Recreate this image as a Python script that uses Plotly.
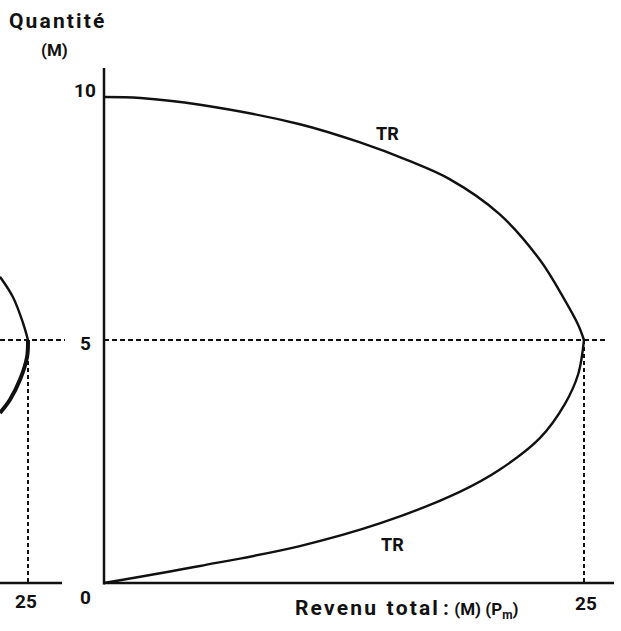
import plotly.graph_objects as go

# ---- data ----
# main chart: total revenue TR (x) against quantity M (y)
upper_q = [10.0, 9.98, 9.84, 9.44, 9.07, 8.70, 8.31, 7.59, 6.65, 5.82, 5.31, 5.0]
upper_tr = [0.0, 1.9, 5.0, 10.2, 13.3, 15.8, 18.0, 20.6, 22.7, 24.0, 24.7, 25.0]
lower_q = [0.0, 0.35, 0.76, 1.23, 1.87, 2.33, 2.98, 3.68, 4.30, 5.0]
lower_tr = [0.0, 5.0, 10.2, 14.4, 18.5, 20.6, 22.7, 24.0, 24.7, 25.0]

# left fragment (neighbouring panel, cut by the page edge)
frag_up_q = [6.30, 5.88, 5.35, 5.0]
frag_up_tr = [23.54, 24.22, 24.74, 25.0]
frag_low_q = [5.0, 4.65, 4.18, 3.77, 3.50]
frag_low_tr = [25.0, 24.95, 24.58, 24.06, 23.54]

y_ticks = [0, 5, 10]
y_tick_labels = ["0", "5", "10"]
x_tick = 25
x_tick_label = "25"
q_mid = 5
tr_max = 25

FONT = "Roboto, Liberation Sans, Arial, sans-serif"
BLACK = "#111111"
PX_X = 19.2   # pixels per revenue unit
PX_Y = 48.6   # pixels per quantity unit
X0 = 104      # pixel of revenue 0 (main panel)
X2_25 = 28    # pixel of revenue 25 (left fragment)
Y0 = 583      # pixel of quantity 0

fig = go.Figure()

# main curve
fig.add_trace(go.Scatter(x=upper_tr, y=upper_q, mode="lines", line=dict(color=BLACK, width=2.4, shape="spline"),
                         hoverinfo="skip", showlegend=False))
fig.add_trace(go.Scatter(x=lower_tr, y=lower_q, mode="lines", line=dict(color=BLACK, width=2.4, shape="spline"),
                         hoverinfo="skip", showlegend=False))
# fragment curve
fig.add_trace(go.Scatter(x=frag_up_tr, y=frag_up_q, xaxis="x2", mode="lines",
                         line=dict(color=BLACK, width=2.4, shape="spline"), hoverinfo="skip", showlegend=False))
fig.add_trace(go.Scatter(x=frag_low_tr, y=frag_low_q, xaxis="x2", mode="lines",
                         line=dict(color=BLACK, width=4, shape="spline"), hoverinfo="skip", showlegend=False))

shapes = []
# main axes
shapes.append(dict(type="line", xref="x", yref="y", x0=0, x1=0, y0=-0.03, y1=(Y0 - 68) / PX_Y,
                   line=dict(color=BLACK, width=2.5)))
shapes.append(dict(type="line", xref="x", yref="y", x0=0, x1=(614 - X0) / PX_X, y0=0, y1=0,
                   line=dict(color=BLACK, width=2.5)))
# fragment x-axis
shapes.append(dict(type="line", xref="x2", yref="y", x0=23.4, x1=25 + (62 - X2_25) / PX_X, y0=0, y1=0,
                   line=dict(color=BLACK, width=2.5)))
# dashed guides
dash_h = "5px,3px"
dash_v = "4px,3px"
shapes.append(dict(type="line", xref="x", yref="y", x0=0, x1=(606 - X0) / PX_X, y0=q_mid, y1=q_mid,
                   line=dict(color=BLACK, width=2, dash=dash_h)))
shapes.append(dict(type="line", xref="x", yref="y", x0=-X0 / PX_X, x1=(65 - X0) / PX_X, y0=q_mid, y1=q_mid,
                   line=dict(color=BLACK, width=2, dash=dash_h)))
shapes.append(dict(type="line", xref="x", yref="y", x0=tr_max, x1=tr_max, y0=q_mid, y1=0,
                   line=dict(color=BLACK, width=2, dash=dash_v)))
shapes.append(dict(type="line", xref="x2", yref="y", x0=tr_max, x1=tr_max, y0=q_mid, y1=0,
                   line=dict(color=BLACK, width=2, dash=dash_v)))

ann = []
tick_font = dict(family=FONT, size=19, color=BLACK)
yshifts = {0: -14, 5: -3, 10: 7}
for v, t in zip(y_ticks, y_tick_labels):
    ann.append(dict(x=(85 - X0) / PX_X, y=v, xref="x", yref="y", text="<b>%s</b>" % t, showarrow=False,
                    font=tick_font, xanchor="center", yanchor="middle", yshift=yshifts[v]))
ann.append(dict(x=x_tick, y=0, xref="x", yref="y", text="<b>%s</b>" % x_tick_label, showarrow=False,
                font=tick_font, xanchor="center", yanchor="middle", yshift=-20, xshift=2))
ann.append(dict(x=x_tick, y=0, xref="x2", yref="y", text="<b>%s</b>" % x_tick_label, showarrow=False,
                font=tick_font, xanchor="center", yanchor="middle", yshift=-18, xshift=-2))

# curve labels
ann.append(dict(x=(387 - X0) / PX_X, y=(Y0 - 133) / PX_Y, xref="x", yref="y", text="<b>TR</b>",
                showarrow=False, font=dict(family=FONT, size=18, color=BLACK)))
ann.append(dict(x=(392 - X0) / PX_X, y=(Y0 - 544) / PX_Y, xref="x", yref="y", text="<b>TR</b>",
                showarrow=False, font=dict(family=FONT, size=18, color=BLACK)))

# axis titles
hs = "\u200a"
ann.append(dict(x=56 / 621, y=1 - 21 / 631, xref="paper", yref="paper",
                text="<b>" + hs.join("Quantité") + "</b>", showarrow=False,
                font=dict(family=FONT, size=21, color=BLACK), xanchor="center", yanchor="middle"))
ann.append(dict(x=54 / 621, y=1 - 50 / 631, xref="paper", yref="paper",
                text="<b>(M)</b>", showarrow=False,
                font=dict(family=FONT, size=17, color=BLACK), xanchor="center", yanchor="middle"))
ann.append(dict(x=520 / 621, y=1 - 609 / 631, xref="paper", yref="paper",
                text="<b>" + hs.join("Revenu") + "  " + hs.join("total") + " :</b> "
                     + "<b><span style='font-size:17px'>(M) (P<sub>m</sub>)</span></b>",
                showarrow=False, font=dict(family=FONT, size=21, color=BLACK),
                xanchor="right", yanchor="middle"))

fig.update_layout(
    width=621, height=631,
    margin=dict(l=0, r=0, t=0, b=0),
    paper_bgcolor="white", plot_bgcolor="white",
    xaxis=dict(range=[-X0 / PX_X, (621 - X0) / PX_X], visible=False, domain=[0, 1]),
    xaxis2=dict(range=[25 - X2_25 / PX_X, 25 + (621 - X2_25) / PX_X], visible=False, overlaying="x",
                domain=[0, 1]),
    yaxis=dict(range=[-(631 - Y0) / PX_Y, Y0 / PX_Y], visible=False, domain=[0, 1]),
    shapes=shapes,
    annotations=ann,
    showlegend=False,
)

fig.write_html("out.html", config={"displayModeBar": False},
               post_script="document.body.style.margin='0px';document.body.style.overflow='hidden';")
